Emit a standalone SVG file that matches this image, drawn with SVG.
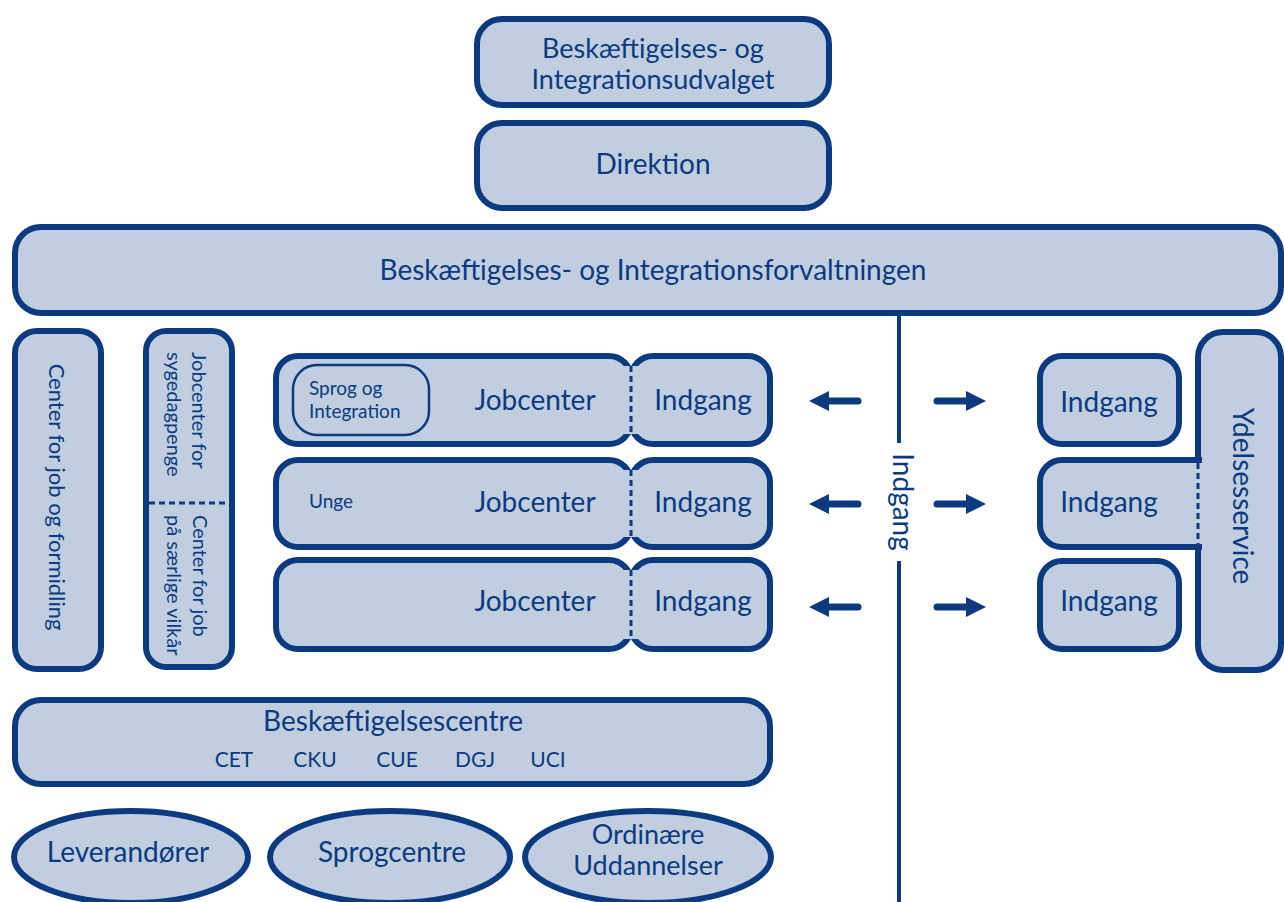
<svg xmlns="http://www.w3.org/2000/svg" width="1284" height="902" viewBox="0 0 1284 902">
<style>
.b{fill:#c1cee0;stroke:#0b3a80;stroke-width:6}
.f{fill:#c1cee0;stroke:none}
.t{font-family:Lato,"Open Sans","Liberation Sans",sans-serif;fill:#0b3a80;font-size:28px}
.m{text-anchor:middle}
.d{stroke:#0b3a80;stroke-width:3;stroke-dasharray:6 4;fill:none}
.ar{stroke:#0b3a80;stroke-width:7;stroke-linecap:round;fill:none}
</style>
<defs>
<marker id="ah" viewBox="0 0 10 10" refX="1" refY="5" markerWidth="20" markerHeight="20" markerUnits="userSpaceOnUse" orient="auto">
<path d="M0,0 L10,5 L0,10 z" fill="#0b3a80"/>
</marker>
</defs>
<rect width="1284" height="902" fill="#ffffff"/>

<g id="connectors">
<line x1="899" y1="313" x2="899" y2="443" stroke="#0b3a80" stroke-width="4"/>
<line x1="899" y1="561" x2="899" y2="902" stroke="#0b3a80" stroke-width="4"/>
<text class="t m" transform="translate(893,502) rotate(90)">Indgang</text>
<line class="ar" x1="858" y1="401" x2="827" y2="401" marker-end="url(#ah)"/>
<line class="ar" x1="858" y1="504" x2="827" y2="504" marker-end="url(#ah)"/>
<line class="ar" x1="858" y1="607" x2="827" y2="607" marker-end="url(#ah)"/>
<line class="ar" x1="937" y1="401" x2="968" y2="401" marker-end="url(#ah)"/>
<line class="ar" x1="937" y1="504" x2="968" y2="504" marker-end="url(#ah)"/>
<line class="ar" x1="937" y1="607" x2="968" y2="607" marker-end="url(#ah)"/>
</g>

<g id="udvalget">
<rect class="b" x="477" y="19" width="352" height="86" rx="25"/>
<text class="t m" x="653" y="58" style="font-size:27px">Beskæftigelses- og</text>
<text class="t m" x="653" y="89" style="font-size:27px">Integrationsudvalget</text>
</g>

<g id="direktion">
<rect class="b" x="477" y="123" width="352" height="85" rx="25"/>
<text class="t m" x="653" y="174">Direktion</text>
</g>

<g id="forvaltningen">
<rect class="b" x="15" y="227" width="1266" height="86" rx="26"/>
<text class="t m" x="653" y="280" font-size="27">Beskæftigelses- og Integrationsforvaltningen</text>
</g>

<g id="center-job-formidling">
<rect class="b" x="15" y="331" width="86" height="338" rx="22"/>
<text class="t m" transform="translate(49,497) rotate(90)" style="font-size:22px">Center for job og formidling</text>
</g>

<g id="jobcenter-sygedagpenge">
<rect class="b" x="146" y="331" width="86" height="336" rx="20"/>
<line class="d" x1="149" y1="503" x2="229" y2="503" stroke-dasharray="8 5"/>
<text class="t" transform="translate(192,352) rotate(90)" style="font-size:20px">Jobcenter for</text>
<text class="t" transform="translate(167,352) rotate(90)" style="font-size:20px">sygedagpenge</text>
<text class="t" transform="translate(193,515) rotate(90)" style="font-size:20px">Center for job</text>
<text class="t" transform="translate(167,515) rotate(90)" style="font-size:20px">på særlige vilkår</text>
</g>

<g id="jobcenter-1">
<rect class="b" x="276" y="356" width="355" height="88" rx="22"/>
<rect class="b" x="631" y="356" width="139" height="88" rx="22"/>
<rect class="f" x="623" y="366" width="16" height="68"/>
<line class="d" x1="631" y1="366" x2="631" y2="434"/>
<rect x="293" y="365" width="136" height="70" rx="24" fill="none" stroke="#0b3a80" stroke-width="2.5"/>
<text class="t" x="309" y="395" style="font-size:19px">Sprog og</text>
<text class="t" x="309" y="418" style="font-size:19px">Integration</text>
<text class="t m" x="535" y="410">Jobcenter</text>
<text class="t m" x="703" y="410">Indgang</text>
</g>

<g id="jobcenter-2">
<rect class="b" x="276" y="460" width="355" height="87" rx="22"/>
<rect class="b" x="631" y="460" width="139" height="87" rx="22"/>
<rect class="f" x="623" y="470" width="16" height="67"/>
<line class="d" x1="631" y1="470" x2="631" y2="537"/>
<text class="t" x="309" y="508" style="font-size:19px">Unge</text>
<text class="t m" x="535" y="512">Jobcenter</text>
<text class="t m" x="703" y="512">Indgang</text>
</g>

<g id="jobcenter-3">
<rect class="b" x="276" y="560" width="355" height="89" rx="22"/>
<rect class="b" x="631" y="560" width="139" height="89" rx="22"/>
<rect class="f" x="623" y="570" width="16" height="69"/>
<line class="d" x1="631" y1="570" x2="631" y2="639"/>
<text class="t m" x="535" y="611">Jobcenter</text>
<text class="t m" x="703" y="611">Indgang</text>
</g>

<g id="ydelsesservice">
<rect class="b" x="1198" y="332" width="83" height="338" rx="25"/>
<text class="t m" transform="translate(1233,496) rotate(90)">Ydelsesservice</text>
</g>

<g id="indgang-right-1">
<rect class="b" x="1040" y="356" width="139" height="88" rx="22"/>
<text class="t m" x="1109" y="412">Indgang</text>
</g>

<g id="indgang-right-2">
<path class="b" d="M1202,460 H1062 A22,22 0 0 0 1040,482 V525 A22,22 0 0 0 1062,547 H1202"/>
<line class="d" x1="1198" y1="463" x2="1198" y2="544"/>
<text class="t m" x="1109" y="512">Indgang</text>
</g>

<g id="indgang-right-3">
<rect class="b" x="1040" y="561" width="139" height="88" rx="22"/>
<text class="t m" x="1109" y="611">Indgang</text>
</g>

<g id="beskaeftigelsescentre">
<rect class="b" x="15" y="700" width="755" height="84" rx="26"/>
<text class="t m" x="393" y="731">Beskæftigelsescentre</text>
<text class="t m" x="234" y="767" style="font-size:21px">CET</text>
<text class="t m" x="315" y="767" style="font-size:21px">CKU</text>
<text class="t m" x="397" y="767" style="font-size:21px">CUE</text>
<text class="t m" x="475" y="767" style="font-size:21px">DGJ</text>
<text class="t m" x="548" y="767" style="font-size:21px">UCI</text>
</g>

<g id="leverandoerer">
<ellipse class="b" cx="131" cy="857" rx="117" ry="46"/>
<text class="t m" x="128" y="862">Leverandører</text>
</g>

<g id="sprogcentre">
<ellipse class="b" cx="390" cy="857" rx="120" ry="46"/>
<text class="t m" x="392" y="862">Sprogcentre</text>
</g>

<g id="ordinaere-uddannelser">
<ellipse class="b" cx="648" cy="857" rx="123" ry="46"/>
<text class="t m" x="648" y="844" style="font-size:27px">Ordinære</text>
<text class="t m" x="648" y="875" style="font-size:27px">Uddannelser</text>
</g>
</svg>
